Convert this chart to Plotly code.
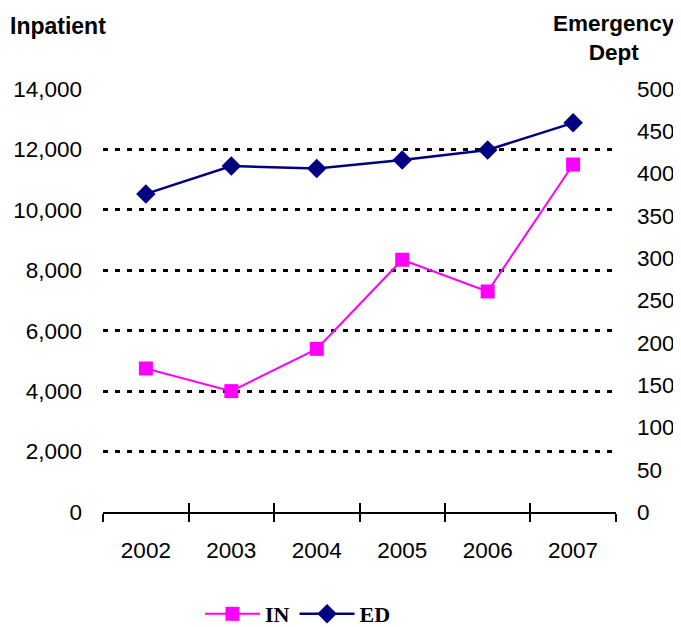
import plotly.graph_objects as go

years = ["2002", "2003", "2004", "2005", "2006", "2007"]
inpatient = [4750, 4000, 5400, 8350, 7300, 11500]
emergency = [376, 409, 406, 416, 428, 460]

left_ticks = [0, 2000, 4000, 6000, 8000, 10000, 12000, 14000]
left_labels = ["0", "2,000", "4,000", "6,000", "8,000", "10,000", "12,000", "14,000"]
right_ticks = [0, 50, 100, 150, 200, 250, 300, 350, 400, 450, 500]

FONT = "Liberation Sans, Arial, sans-serif"
TICK_SIZE = 22.5
OFF = 8  # page body margin
W, H = 681 - OFF, 627 - OFF
PL, PR, PT, PB = 103, 616, 89, 512  # plot area in page pixels
L, R, T, B = PL - OFF, (681 - PR), PT - OFF, (627 - PB)
pw, ph = PR - PL, PB - PT


def px(xp):
    return (xp - PL) / pw


def py(yp):
    return (PB - yp) / ph


fig = go.Figure()
fig.add_trace(go.Scatter(
    x=years, y=inpatient, name="IN", mode="lines+markers",
    line=dict(color="#FF00FF", width=2),
    marker=dict(symbol="square", size=14, color="#FF00FF"),
    xaxis="x", yaxis="y"))
fig.add_trace(go.Scatter(
    x=years, y=emergency, name="ED", mode="lines+markers",
    line=dict(color="#000080", width=2.5),
    marker=dict(symbol="diamond", size=15, color="#000080"),
    xaxis="x2", yaxis="y2"))

xr = [-0.502, 5.502]
fig.update_layout(
    width=W, height=H,
    margin=dict(l=L, r=R, t=T, b=B, autoexpand=False),
    paper_bgcolor="white", plot_bgcolor="white",
    font=dict(family=FONT, size=TICK_SIZE, color="black"),
    showlegend=True,
    legend=dict(orientation="h", x=px(200), xanchor="left",
                y=py(614), yanchor="middle",
                font=dict(family="Liberation Serif, Times New Roman, serif", size=22,
                          color="black", weight="bold"),
                itemwidth=55, tracegroupgap=0, bgcolor="rgba(0,0,0,0)"),
    xaxis=dict(type="category", categoryorder="array", categoryarray=years,
               range=xr, automargin=False,
               tickson="boundaries", ticks="outside", ticklen=8, tickwidth=1.5,
               tickcolor="black", showline=True, linecolor="black", linewidth=2,
               showgrid=False, zeroline=False, ticklabelstandoff=17,
               tickfont=dict(size=TICK_SIZE, family=FONT)),
    xaxis2=dict(type="category", categoryorder="array", categoryarray=years,
                range=xr, automargin=False,
                overlaying="x", side="bottom",
                tickson="boundaries", ticks="inside", ticklen=9, tickwidth=1.5,
                tickcolor="black", showticklabels=False, showline=False,
                showgrid=False, zeroline=False),
    yaxis=dict(range=[0, 14000], tickvals=left_ticks, ticktext=left_labels,
               automargin=False,
               showgrid=True, gridcolor="black", gridwidth=2.5, griddash="5px,7px",
               zeroline=False, showline=False, ticks="", ticklabelstandoff=20,
               tickfont=dict(size=TICK_SIZE, family=FONT)),
    yaxis2=dict(range=[0, 500], tickvals=right_ticks, overlaying="y", side="right",
                automargin=False,
                showgrid=False, zeroline=False, showline=False, ticks="",
                ticklabelstandoff=20, tickfont=dict(size=TICK_SIZE, family=FONT)),
    annotations=[
        dict(text="<b>Inpatient</b>", xref="paper", yref="paper",
             x=px(8), xanchor="left", y=py(26), yanchor="middle",
             showarrow=False, font=dict(size=23, family=FONT)),
        dict(text="<b>Emergency<br>Dept</b>", xref="paper", yref="paper",
             x=px(614), xanchor="center", align="center",
             y=py(38), yanchor="middle",
             showarrow=False, font=dict(size=22.5, family=FONT)),
    ],
)

fig.write_html("out.html")
